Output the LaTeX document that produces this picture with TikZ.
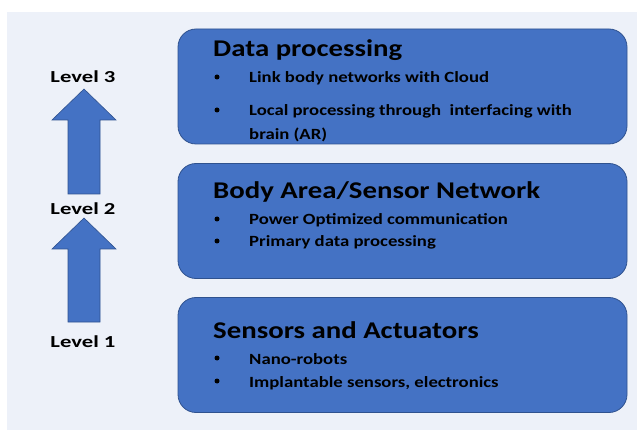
\documentclass[tikz,border=0pt]{standalone}
\usepackage{fontspec}
\setmainfont{Carlito}
\newfontfamily\widefont[FakeStretch=1.2]{Carlito}
\newfontfamily\widerfont[FakeStretch=1.35]{Carlito}
\usepackage{xcolor}
\usepackage{tikz}
\usetikzlibrary{positioning,calc}
\definecolor{boxblue}{HTML}{4472C4}
\definecolor{boxedge}{HTML}{2F528F}
\definecolor{bgblue}{HTML}{EDF1F9}

\begin{document}
\begin{tikzpicture}[x=1pt,y=-1pt,
    layer/.style={draw=boxedge, line width=0.8pt, fill=boxblue, rounded corners=18pt,
        minimum width=449pt, minimum height=115pt, inner sep=0pt},
    heading/.style={anchor=base west, inner sep=0pt, font=\widefont\fontsize{24}{28}\selectfont\bfseries},
    item/.style={anchor=base west, inner sep=0pt, font=\widefont\fontsize{15.6}{18}\selectfont\bfseries},
    dot/.style={circle, fill=black, inner sep=0pt, minimum size=5pt},
    lvl/.style={anchor=base, inner sep=0pt, font=\widerfont\fontsize{16.8}{20}\selectfont\bfseries},
    uparrow/.style={draw=boxedge, line width=0.6pt, fill=boxblue}]
    \useasboundingbox (0,0) rectangle (637,430);
    \fill[bgblue] (7,12) rectangle (637,430);

    % the three layers
    \node[layer] (top) at (402.5,86.5) {};
    \node[layer] (mid) at (402.5,221) {};
    \node[layer] (bot) at (402.5,355) {};

    \node[heading] (h3) at (213,57) {Data processing};
    \node[dot] (d31) at (217,77) {};
    \node[item] (i31) at (249,83) {Link body networks with Cloud};
    \node[dot] (d32) at (217,110) {};
    \node[item] (i32) at (249,116) {Local processing through\ \ interfacing with};
    \node[item] (i33) at (249,140) {brain (AR)};

    \node[heading] (h2) at (213,199) {Body Area/Sensor Network};
    \node[dot] (d21) at (217,219) {};
    \node[item] (i21) at (249,225) {Power Optimized communication};
    \node[dot] (d22) at (217,241) {};
    \node[item] (i22) at (249,247) {Primary data processing};

    \node[heading] (h1) at (213,338) {Sensors and Actuators};
    \node[dot] (d11) at (217,358) {};
    \node[item] (i11) at (249,364) {Nano-robots};
    \node[dot] (d12) at (217,381) {};
    \node[item] (i12) at (249,387) {Implantable sensors, electronics};

    % levels and block arrows
    \node[lvl] (lv3) at (83,83) {Level 3};
    \node[lvl] (lv2) at (83,215) {Level 2};
    \node[lvl] (lv1) at (83,347) {Level 1};

    \filldraw[uparrow] (68,194) -- (68,120) -- (52,120) -- (84,89) -- (116,120) -- (100,120) -- (100,194) -- cycle;
    \filldraw[uparrow] (68,322) -- (68,249) -- (52,249) -- (84,218) -- (116,249) -- (100,249) -- (100,322) -- cycle;
\end{tikzpicture}
\end{document}
